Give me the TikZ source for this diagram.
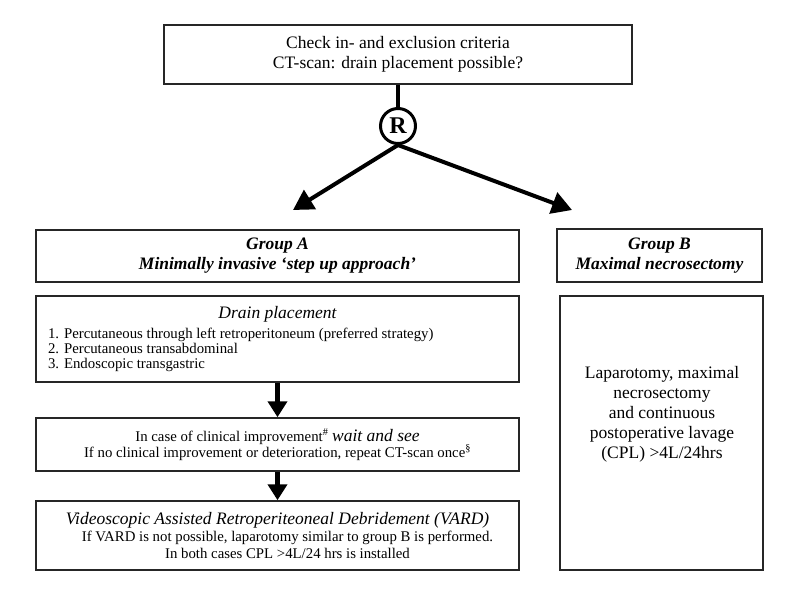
\documentclass[tikz,border=0pt]{standalone}
\usepackage{fontspec}
\setmainfont{Liberation Serif}
\usetikzlibrary{arrows.meta}
\newcommand\bigf{\fontsize{17.5}{20}\selectfont}
\newcommand\smallf{\fontsize{14.8}{15}\selectfont}
\begin{document}
\begin{tikzpicture}[x=1pt,y=-1pt,
  box/.style={draw=black!85, line width=1.5pt, rectangle, inner sep=0pt},
  bigarrow/.style={line width=4pt, -{Triangle[length=20pt,width=22pt]}},
  downarrow/.style={line width=5pt, -{Triangle[length=16pt,width=19pt]}}
]
\useasboundingbox (0,0) rectangle (800,600);
\fill[white] (0,0) rectangle (800,600);

\node[box, minimum width=468pt, minimum height=59pt, align=center, font=\bigf] (top) at (398,54.5)
  {Check in- and exclusion criteria\\CT-scan: drain placement possible?};

\node[circle, draw, line width=3pt, minimum size=35pt, inner sep=0pt,
      font=\fontsize{24}{24}\selectfont\bfseries] (R) at (398,126) {R};
\draw[line width=4pt] (top) -- (R);

\coordinate (ta) at (293,210);
\coordinate (tb) at (572,210);
\draw[bigarrow] (R.south) -- (ta);
\draw[bigarrow] (R.south) -- (tb);

\node[box, minimum width=483pt, minimum height=52pt, align=center, font=\bigf\bfseries\itshape] (gA) at (277.5,256)
  {Group A\\Minimally invasive ‘step up approach’};
\node[box, minimum width=205pt, minimum height=53pt, align=center, font=\bigf\bfseries\itshape] (gB) at (659.5,255.5)
  {Group B\\Maximal necrosectomy};

\node[box, minimum width=483pt, minimum height=86pt] (drain) at (277.5,339)
  {\begin{minipage}{459pt}{\centering\bigf\itshape Drain placement\par}\vspace{5pt}%
   {\smallf\raggedright 1. Percutaneous through left retroperitoneum (preferred strategy)\\
   2. Percutaneous transabdominal\\
   3. Endoscopic transgastric\par}\end{minipage}};

\node[box, minimum width=483pt, minimum height=53pt, align=center, font=\fontsize{14.8}{16}\selectfont] (wait) at (277.5,444.5)
  {In case of clinical improvement\textsuperscript{\#} {\bigf\itshape wait and see}\\
   If no clinical improvement or deterioration, repeat CT-scan once\textsuperscript{\S}};

\node[box, minimum width=483pt, minimum height=69pt] (vard) at (277.5,535.5)
  {\begin{minipage}{470pt}\centering{\bigf\itshape Videoscopic Assisted Retroperiteoneal Debridement (VARD)\par}%
   {\fontsize{14.8}{17}\selectfont\hspace*{20pt}If VARD is not possible, laparotomy similar to group B is performed.\\
   \hspace*{20pt}In both cases CPL >4L/24 hrs is installed\par}\end{minipage}};

\node[box, minimum width=203pt, minimum height=274pt] (lap) at (661.5,433) {};
\node[align=center, font=\bigf] (laptext) at (662,414)
  {Laparotomy, maximal\\necrosectomy\\and continuous\\postoperative lavage\\(CPL) >4L/24hrs};

\draw[downarrow] (drain) -- (wait);
\draw[downarrow] (wait) -- (vard);
\end{tikzpicture}
\end{document}
